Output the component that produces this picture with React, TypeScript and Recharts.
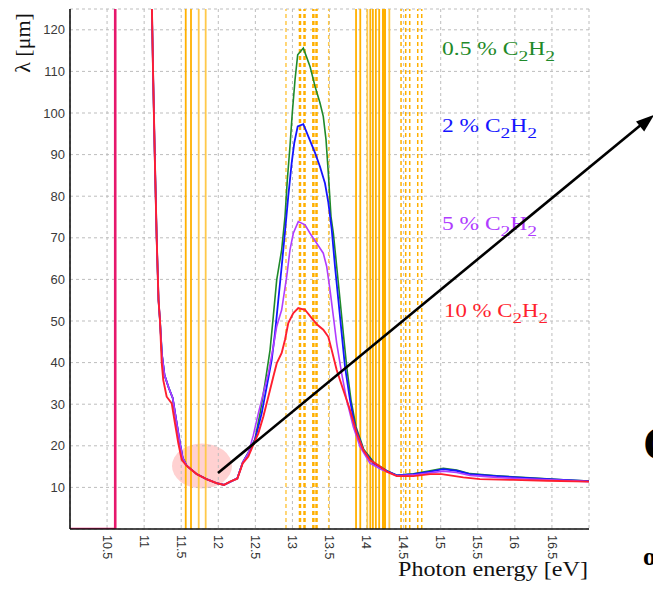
import React from "react";
import {
  LineChart,
  Line,
  XAxis,
  YAxis,
  CartesianGrid,
  ReferenceLine,
} from "recharts";

// ---- data ----
const xTicks = [10.5, 11, 11.5, 12, 12.5, 13, 13.5, 14, 14.5, 15, 15.5, 16, 16.5];
const yTicks = [10, 20, 30, 40, 50, 60, 70, 80, 90, 100, 110, 120];

const commonLeft: [number, number][] = [
  [11.1, 130], [11.12, 110], [11.143, 90], [11.169, 70], [11.194, 55], [11.214, 50],
  [11.24, 42], [11.275, 37], [11.33, 34], [11.385, 31.5], [11.44, 25.4], [11.484, 20.6],
  [11.52, 17.1], [11.574, 15.2], [11.709, 13.2], [11.84, 12.0], [11.98, 11.0],
  [12.077, 10.6], [12.158, 11.3], [12.257, 12.2], [12.33, 16.0],
];

const green05: [number, number][] = [
  [12.405, 18.4], [12.495, 21.6], [12.563, 27.8], [12.63, 35], [12.698, 43], [12.742, 51.1],
  [12.788, 59.9], [12.855, 67.1], [12.9, 75.1], [12.931, 83.9], [12.967, 92], [12.998, 100],
  [13.035, 108], [13.071, 114], [13.147, 115.6], [13.237, 111.2], [13.305, 106.4],
  [13.372, 102.4], [13.416, 99.2], [13.453, 93.6], [13.484, 85.5], [13.52, 75.1],
  [13.552, 71.1], [13.597, 63.1], [13.642, 55.1], [13.686, 47.1], [13.732, 39], [13.79, 31],
  [13.857, 24.6], [13.96, 19.2], [14.1, 16.0], [14.27, 14.0], [14.407, 12.9], [14.631, 13.3],
  [14.856, 14.0], [15.035, 14.6], [15.215, 14.2], [15.395, 13.3], [15.755, 12.8],
  [16.205, 12.3], [16.654, 11.8], [17, 11.5],
];

const blue2: [number, number][] = [
  [12.405, 18.2], [12.495, 21.4], [12.585, 27.8], [12.653, 34.2], [12.72, 40.6], [12.765, 47.1],
  [12.81, 55.1], [12.855, 63.1], [12.9, 71.5], [12.944, 80], [12.99, 88], [13.025, 92.8],
  [13.071, 96.8], [13.147, 97.3], [13.214, 94.4], [13.305, 90.4], [13.372, 87.1],
  [13.439, 83.1], [13.484, 78.5], [13.53, 72], [13.574, 63.1], [13.619, 55.1], [13.664, 47.1],
  [13.709, 39], [13.777, 31], [13.844, 24.6], [13.956, 19.0], [14.091, 15.8], [14.27, 14.0],
  [14.407, 12.9], [14.631, 13.2], [14.856, 13.8], [15.035, 14.4], [15.215, 14.0],
  [15.395, 13.2], [15.755, 12.7], [16.205, 12.2], [16.654, 11.8], [17, 11.5],
];

const purple5: [number, number][] = [
  [12.405, 18.2], [12.472, 22.5], [12.54, 27.8], [12.607, 32.6], [12.675, 37.4], [12.742, 43.8],
  [12.788, 48.7], [12.855, 52.7], [12.923, 60.7], [12.967, 67.1], [13.012, 71.1],
  [13.079, 73.9], [13.17, 73.1], [13.237, 71.1], [13.327, 68.7], [13.416, 66.3],
  [13.462, 63.1], [13.507, 57.5], [13.552, 51.1], [13.597, 44.7], [13.664, 37.4],
  [13.732, 31], [13.821, 24.6], [13.912, 19.8], [14.046, 15.8], [14.2, 14.3], [14.407, 12.8],
  [14.631, 13.0], [14.856, 13.5], [15.035, 13.9], [15.215, 13.6], [15.395, 12.9],
  [15.755, 12.4], [16.205, 12.0], [16.654, 11.7], [17, 11.4],
];

const red10: [number, number][] = [
  [11.1, 130], [11.12, 110], [11.143, 90], [11.169, 70], [11.194, 55], [11.214, 50],
  [11.237, 40], [11.258, 35.8], [11.304, 31.8], [11.372, 30.2], [11.416, 25.4],
  [11.461, 20.6], [11.507, 16.6], [11.574, 15.2], [11.709, 13.2], [11.84, 12.0],
  [11.98, 11.0], [12.077, 10.6], [12.158, 11.4], [12.257, 12.1], [12.33, 15.8],
  [12.405, 17.4], [12.472, 20.2], [12.54, 23.0], [12.607, 27.0], [12.675, 31.8],
  [12.742, 36.6], [12.788, 39.8], [12.855, 42.3], [12.9, 45.5], [12.944, 49.5],
  [13.012, 51.9], [13.079, 53.1], [13.17, 52.7], [13.26, 50.7], [13.336, 49.1],
  [13.416, 47.9], [13.484, 46.2], [13.53, 43.0], [13.597, 38.2], [13.686, 33.4],
  [13.777, 28.6], [13.867, 23.0], [13.956, 19.0], [14.046, 16.6], [14.181, 15.0],
  [14.272, 13.8], [14.407, 12.7], [14.631, 12.7], [14.856, 13.2], [15.013, 13.2],
  [15.305, 12.4], [15.53, 12.0], [15.979, 11.8], [16.43, 11.6], [17.0, 11.4],
];

const threshold: [number, number][] = [[10, 0], [10.61, 0], [10.61, 130]];

const solidLinesA = [11.561, 11.632, 11.736, 11.83];
const dashedLinesA = [12.913, 13.102, 13.163, 13.282, 13.325, 13.489];
const solidLinesB = [13.858, 13.915, 14.01, 14.05, 14.085, 14.125, 14.17, 14.235, 14.307];
const dashedLinesB = [14.465, 14.528, 14.582, 14.69, 14.744];

const legendLabels = ["0.5 % C", "2 % C", "5 % C", "10 % C"];

// ---- helpers ----
const toPts = (arr: [number, number][]) => arr.map(([e, v]) => ({ e, v }));

const COLORS = {
  green: "#1f8a2a",
  blue: "#1515ff",
  purple: "#b03cff",
  red: "#ff1f2f",
  magenta: "#e6186c",
  orange: "#ffb000",
  orangeLight: "#ffc94a",
};

const XTick = (props: any) => {
  const { x, y, payload } = props;
  return (
    <text
      x={x}
      y={y}
      dy="0.35em"
      transform={`rotate(90, ${x}, ${y})`}
      textAnchor="start"
      fill="#333"
      fontSize={12.5}
      fontFamily="Liberation Sans, Arial, sans-serif"
    >
      {payload.value}
    </text>
  );
};

const Legend = ({ x, y, label, color, len }: any) => (
  <text
    x={x}
    y={y}
    fill={color}
    fontSize={18}
    fontFamily="Liberation Serif, Times New Roman, serif"
    textLength={len}
    lengthAdjust="spacingAndGlyphs"
  >
    {label}
    <tspan dy={6} fontSize={15}>2</tspan>
    <tspan dy={-6}>H</tspan>
    <tspan dy={6} fontSize={15}>2</tspan>
  </text>
);

export default function App() {
  const lineCommon = { type: "linear" as const, dot: false, isAnimationActive: false, dataKey: "v" };
  return (
    <div style={{ position: "absolute", left: 0, top: 0, width: 653, height: 589, background: "#fff" }}>
      <svg width={653} height={589} style={{ position: "absolute", left: 0, top: 0 }}>
        <ellipse cx={202} cy={466} rx={30} ry={22.5} fill="#ff9a9a" opacity={0.45} />
      </svg>
      <div style={{ position: "absolute", left: 0, top: 0 }}>
        <LineChart width={653} height={589} margin={{ top: 9, right: 64, bottom: 10, left: 10 }}>
          <CartesianGrid stroke="#bdbdbd" strokeDasharray="3 3" />
          <XAxis
            dataKey="e"
            type="number"
            domain={[10, 17]}
            ticks={xTicks}
            allowDataOverflow
            height={50}
            tickSize={0}
            tickMargin={6}
            tickLine={false}
            axisLine={{ stroke: "#111", strokeWidth: 1.6 }}
            tick={<XTick />}
          />
          <XAxis
            xAxisId="top"
            dataKey="e"
            type="number"
            orientation="top"
            mirror
            domain={[10, 17]}
            ticks={xTicks}
            allowDataOverflow
            height={0}
            tick={false}
            tickSize={4}
            tickLine={{ stroke: "#222", strokeWidth: 1.5 }}
            axisLine={{ stroke: "#222", strokeWidth: 1.5 }}
          />
          <YAxis
            type="number"
            domain={[0, 125]}
            ticks={yTicks}
            allowDataOverflow
            width={60}
            tickLine={false}
            tickSize={3}
            tickMargin={2}
            axisLine={{ stroke: "#111", strokeWidth: 1.6 }}
            tick={{ fill: "#3a3a3a", fontSize: 13, fontFamily: "Liberation Sans, Arial, sans-serif" }}
          />
          <YAxis
            yAxisId="right"
            type="number"
            orientation="right"
            mirror
            domain={[0, 125]}
            ticks={yTicks}
            allowDataOverflow
            width={0}
            tick={false}
            tickSize={4}
            tickLine={{ stroke: "#333", strokeWidth: 1.2 }}
            axisLine={{ stroke: "#444", strokeWidth: 1.2 }}
          />
          {solidLinesA.map((e, i) => (
            <ReferenceLine key={"sa" + i} x={e} stroke={i < 2 ? COLORS.orange : COLORS.orangeLight} strokeWidth={1.8} />
          ))}
          {dashedLinesA.map((e, i) => (
            <ReferenceLine
              key={"da" + i}
              x={e}
              stroke={i === 0 || i === 5 ? COLORS.orangeLight : COLORS.orange}
              strokeWidth={i === 0 || i === 5 ? 1.5 : 2.5}
              strokeDasharray="4 3"
            />
          ))}
          {solidLinesB.map((e, i) => (
            <ReferenceLine
              key={"sb" + i}
              x={e}
              stroke={i === 2 || i === 8 ? COLORS.orangeLight : COLORS.orange}
              strokeWidth={i === 7 ? 4 : 1.8}
            />
          ))}
          {dashedLinesB.map((e, i) => (
            <ReferenceLine key={"db" + i} x={e} stroke={COLORS.orange} strokeWidth={1.5} strokeDasharray="4 3" />
          ))}
          <Line {...lineCommon} data={toPts(threshold)} stroke={COLORS.magenta} strokeWidth={2.6} />
          <Line {...lineCommon} data={toPts([...commonLeft, ...green05])} stroke={COLORS.green} strokeWidth={1.6} />
          <Line {...lineCommon} data={toPts([...commonLeft, ...blue2])} stroke={COLORS.blue} strokeWidth={1.8} />
          <Line {...lineCommon} data={toPts([...commonLeft, ...purple5])} stroke={COLORS.purple} strokeWidth={1.6} />
          <Line {...lineCommon} data={toPts(red10)} stroke={COLORS.red} strokeWidth={1.9} />
        </LineChart>
      </div>
      <svg width={653} height={589} style={{ position: "absolute", left: 0, top: 0, pointerEvents: "none" }}>
        <text
          x={22}
          y={43}
          transform="rotate(-90, 22, 43)"
          textAnchor="middle"
          dominantBaseline="central"
          fontSize={22}
          fill="#111"
          fontFamily="Liberation Serif, Times New Roman, serif"
        >
          λ [μm]
        </text>
        <text
          x={398}
          y={576}
          fontSize={21}
          fill="#111"
          fontFamily="Liberation Serif, Times New Roman, serif"
          textLength={190}
          lengthAdjust="spacingAndGlyphs"
        >
          Photon energy [eV]
        </text>
        <Legend x={442} y={55} label={legendLabels[0]} color={COLORS.green} len={113} />
        <Legend x={442} y={132} label={legendLabels[1]} color={COLORS.blue} len={95} />
        <Legend x={442} y={230} label={legendLabels[2]} color={COLORS.purple} len={95} />
        <Legend x={444} y={317} label={legendLabels[3]} color={COLORS.red} len={104} />
        <line x1={218} y1={473} x2={642} y2={124} stroke="#000" strokeWidth={2.6} />
        <polygon points="654,115 644.2,131.4 636,121.4" fill="#000" />
        <text x={643} y={460} fontSize={48} fontWeight="bold" fill="#000" fontFamily="Liberation Serif, Times New Roman, serif">
          C
        </text>
        <text x={643} y={565} fontSize={26} fontWeight="bold" fill="#000" fontFamily="Liberation Serif, Times New Roman, serif">
          o
        </text>
      </svg>
    </div>
  );
}
